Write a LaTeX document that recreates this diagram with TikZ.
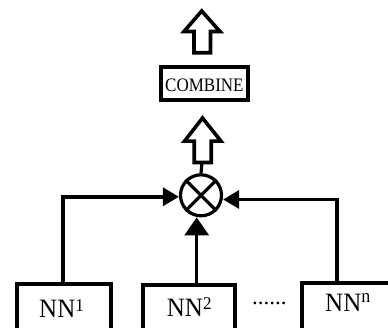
\documentclass[tikz,border=0pt]{standalone}
\usepackage{fontspec}
\setmainfont{Liberation Serif}
\usetikzlibrary{arrows.meta}
\begin{document}
\begin{tikzpicture}[x=1pt,y=-1pt,
  box/.style={draw, line width=4pt, rectangle, inner sep=0pt},
  ring/.style={draw, line width=3.2pt, circle, inner sep=0pt},
  conn/.style={line width=3.5pt, -{Triangle[length=16pt,width=18pt]}},
  connb/.style={line width=3.5pt, -{Triangle[length=18pt,width=24pt]}},
  plain/.style={line width=3.2pt},
  blk/.style={draw, line width=3.6pt, line join=miter, fill=white},
  lbl/.style={anchor=base west, inner sep=0pt}]
\useasboundingbox (0,0) rectangle (388,328);
\clip (0,0) rectangle (388,328);
% boxes
\node[box, minimum width=87.8pt, minimum height=33pt] (combine) at (204.4,83.5) {};
\node[lbl] (tcomb) at (165,91.7) {\scalebox{1}[1.12]{\fontsize{17}{17}\selectfont COMBINE}};
\node[ring, minimum size=41pt] (c) at (201,195.3) {};
\draw[plain] (c.north west) -- (c.south east);
\draw[plain] (c.north east) -- (c.south west);
\node[box, minimum width=93.4pt, minimum height=60pt] (nn1) at (64,314.5) {};
\node[box, minimum width=92.8pt, minimum height=60pt] (nn2) at (188.9,315.3) {};
\node[box, minimum width=118pt, minimum height=60pt] (nnn) at (361,313) {};
\node[lbl] (l1) at (39,318) {\scalebox{1}[1.06]{\fontsize{25}{25}\selectfont NN\raisebox{6.3pt}{\fontsize{17}{17}\selectfont 1}}};
\node[lbl] (l2) at (166.7,316.5) {\scalebox{1}[1.06]{\fontsize{25}{25}\selectfont NN\raisebox{6.3pt}{\fontsize{17}{17}\selectfont 2}}};
\node[lbl] (ln) at (325,311.7) {\scalebox{1}[1.06]{\fontsize{25}{25}\selectfont NN\raisebox{8.4pt}{\fontsize{18}{18}\selectfont n}}};
\node[lbl] (dots) at (252,305) {\fontsize{23}{23}\selectfont ......};
% block arrows
\draw[blk] (201.7,11) -- (220,31.5) -- (210.5,31.5) -- (210.5,52.8) -- (194,52.8) -- (194,31.5) -- (184,31.5) -- cycle;
\draw[blk] (202.5,118) -- (221,141.2) -- (211.2,141.2) -- (211.2,162.5) -- (194.2,162.5) -- (194.2,141.2) -- (184.5,141.2) -- cycle;
\coordinate (a2) at (202,162.5);
\draw[plain] (c.north) -- (a2);
% connectors
\draw[conn] ([xshift=-1pt]nn1.north) |- ([yshift=-1.5pt]c.west);
\draw[conn] ([xshift=-24pt]nnn.north) |- ([yshift=-4.2pt]c.east);
\draw[connb] ([xshift=-4.3pt]c.south |- nn2.north) -- ([xshift=-4.3pt]c.south);
\end{tikzpicture}
\end{document}
